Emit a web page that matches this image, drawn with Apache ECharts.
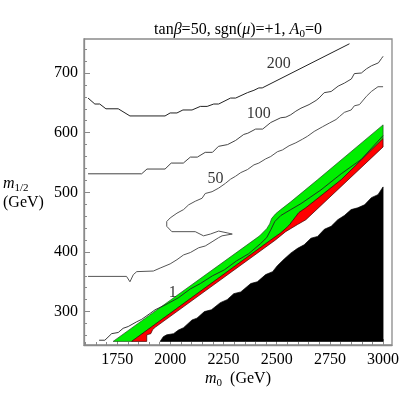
<!DOCTYPE html>
<html><head><meta charset="utf-8">
<script src="https://cdn.jsdelivr.net/npm/echarts@6/dist/echarts.min.js"></script>
<style>html,body{margin:0;padding:0;background:#fff}#c{width:403px;height:403px}</style>
</head><body><div id="c"></div>
<script>
// ---- data (m0 [GeV], m1/2 [GeV]) ----
const m0Ticks = [1750, 2000, 2250, 2500, 2750, 3000];
const m12Ticks = [300, 400, 500, 600, 700];
const m0Minor = [1600,1650,1700,1800,1850,1900,1950,2050,2100,2150,2200,2300,2350,2400,2450,2550,2600,2650,2700,2800,2850,2900,2950,3050];
const m12Minor = [260,280,320,340,360,380,420,440,460,480,520,540,560,580,620,640,660,680,720,740];

const contour200 = [[1613,658],[1645,648],[1668,648],[1697,640],[1755,640],[1810,628],[1975,628],[1999,633],[2031,633],[2059,638],[2102,638],[2141,644],[2173,644],[2204,648],[2227,648],[2283,658],[2307,658],[2362,667],[2393,671],[2416,675],[2432,675],[2842,749]];
const contour100 = [[1613,531],[1865,531],[1890,539],[1975,539],[2004,549],[2061,549],[2094,559],[2127,559],[2164,567],[2198,567],[2226,577],[2269,580],[2307,587],[2345,597],[2364,599],[2401,606],[2434,606],[2472,617],[2519,625],[2543,626],[2566,630],[2590,636],[2614,641],[2652,647],[2685,654],[2699,658],[2723,667],[2756,669],[2789,678],[2818,683],[2851,690],[2865,699],[2898,700],[2922,707],[2945,712],[2978,717],[2992,724],[3000,728]];
const contour50 = [[1613,359],[1794,359],[1810,350],[1826,362],[1842,367],[1920,368],[1952,373],[1999,380],[2031,387],[2062,395],[2094,399],[2133,407],[2164,410],[2196,417],[2227,424],[2243,427],[2291,430],[2267,432],[2227,435],[2188,430],[2156,427],[2117,434],[2007,434],[1983,443],[1983,451],[1999,457],[2031,465],[2062,471],[2086,479],[2117,485],[2149,490],[2164,498],[2196,501],[2227,507],[2259,515],[2283,522],[2307,527],[2331,533],[2362,538],[2393,546],[2416,549],[2448,556],[2472,560],[2503,568],[2527,571],[2558,578],[2590,583],[2621,589],[2645,594],[2676,602],[2716,610],[2747,616],[2779,622],[2795,627],[2818,634],[2850,638],[2865,645],[2889,647],[2922,661],[2945,669],[2976,677],[3000,677]];
const contour1 = [[1665,252],[1692,252],[1724,263],[1755,265],[1778,272],[1802,275],[1842,283],[1865,287],[1905,297],[1928,303],[1975,311],[1991,314],[2037,323],[2094,338],[2141,347],[2198,360],[2254,370],[2311,385],[2368,397],[2424,414],[2453,424],[2472,437],[2491,451],[2519,461],[2566,471],[2614,481],[2708,504],[2803,531],[2897,555],[3000,595]];

const greenUpper = [[1731,250],[2420,427],[2453,439],[2467,447],[2476,456],[2495,464],[2519,471],[2566,484],[2692,521],[3000,613]];
const greenLower = [[1818,250],[2472,420],[2519,432],[2557,444],[2585,457],[2604,466],[2637,474],[2803,521],[3000,590]];
const redLower = [[1889,250],[1889,261],[1908,263],[1917,270],[1930,274],[2494,420],[2542,434],[2598,446],[2637,454],[3000,576]];
const blackEdge = [[1952,250],[1967,258],[1983,261],[2015,263],[2038,269],[2062,273],[2102,286],[2125,289],[2160,300],[2193,303],[2235,315],[2267,320],[2298,330],[2331,333],[2378,347],[2409,350],[2448,362],[2481,367],[2503,377],[2535,388],[2566,398],[2598,406],[2629,412],[2661,423],[2692,426],[2724,438],[2756,443],[2787,454],[2818,461],[2850,471],[2881,474],[2913,479],[2945,491],[2976,496],[3000,509],[3000,250]];

const contourLabels = [[2509,716,'200'],[2415,632,'100'],[2212,523,'50'],[2011,332,'1']];

// ---- chart ----
const FONT = 'Liberation Serif';
const chart = echarts.init(document.getElementById('c'), null, {renderer:'canvas'});

function polygonSeries(pts, fill, stroke) {
  return {
    type: 'custom', data: pts, clip: true, silent: true,
    encode: {x: 0, y: 1},
    renderItem: function (params, api) {
      if (params.dataIndex !== 0) return null;
      return {type: 'polygon', shape: {points: pts.map(p => api.coord(p))},
              style: {fill: fill, stroke: stroke, lineWidth: 0.7}};
    }
  };
}
function lineSeries(pts, color, w) {
  return {type: 'line', data: pts, showSymbol: false, symbol: 'none', silent: true,
          lineStyle: {color: color, width: w}, z: 5, animation: false};
}
const greenPoly = greenUpper.concat(greenLower.slice().reverse());
const redPoly = greenLower.concat(redLower.slice().reverse());

const axisColor = '#8a8a8a';
const plain = v => String(v);
chart.setOption({
  animation: false,
  grid: {left: 84, top: 39, width: 308, height: 306, show: true, borderColor: axisColor, borderWidth: 1.3, backgroundColor: '#fff'},
  xAxis: [
    {type: 'value', min: 1594, max: 3042, position: 'bottom',
     axisLine: {show: true, lineStyle: {color: axisColor, width: 1.3}},
     axisTick: {show: true, inside: true, length: 6, customValues: m0Ticks, lineStyle: {color: axisColor}},
     axisLabel: {customValues: m0Ticks, formatter: plain, fontFamily: FONT, fontSize: 16, color: '#000', margin: 7},
     splitLine: {show: false}},
    {type: 'value', min: 1594, max: 3042, position: 'bottom', offset: 0,
     axisLine: {show: false},
     axisTick: {show: true, inside: true, length: 3, customValues: m0Minor, lineStyle: {color: axisColor}},
     axisLabel: {show: false}, splitLine: {show: false}}
  ],
  yAxis: [
    {type: 'value', min: 244, max: 757, position: 'left',
     axisLine: {show: true, lineStyle: {color: axisColor, width: 1.3}},
     axisTick: {show: true, inside: true, length: 6, customValues: m12Ticks, lineStyle: {color: axisColor}},
     axisLabel: {customValues: m12Ticks, formatter: plain, fontFamily: FONT, fontSize: 16, color: '#000', margin: 6},
     splitLine: {show: false}},
    {type: 'value', min: 244, max: 757, position: 'left', offset: 0,
     axisLine: {show: false},
     axisTick: {show: true, inside: true, length: 3, customValues: m12Minor, lineStyle: {color: axisColor}},
     axisLabel: {show: false}, splitLine: {show: false}}
  ],
  series: [
    polygonSeries(blackEdge, '#000', '#000'),
    polygonSeries(greenPoly, '#00ee00', '#1b4d1b'),
    polygonSeries(redPoly, '#ff0000', '#3a0000'),
    lineSeries(contour1, '#222', 0.9),
    lineSeries(contour50, '#555', 1),
    lineSeries(contour100, '#444', 1),
    lineSeries(contour200, '#222', 1),
    {type: 'scatter', data: contourLabels, symbolSize: 0, silent: true, z: 6,
     label: {show: true, position: 'inside', formatter: p => p.value[2], fontFamily: FONT, fontSize: 16, color: '#000'}}
  ],
  graphic: [
    {type: 'text', x: 238, y: 30, style: {
      text: '{n|tan}{g|β}{n|=50, sgn(}{g|μ}{n|)=+1, }{g|A}{s|0}{n|=0}',
      align: 'center', verticalAlign: 'middle',
      rich: {n: {fontFamily: FONT, fontSize: 16, color: '#000'},
             g: {fontFamily: FONT, fontSize: 16, fontStyle: 'italic', color: '#000'},
             s: {fontFamily: FONT, fontSize: 11, color: '#000', padding: [8, 0, 0, 0]}}}},
    {type: 'text', x: 238, y: 379, style: {
      text: '{g|m}{s|0}{n|  (GeV)}', align: 'center', verticalAlign: 'middle',
      rich: {n: {fontFamily: FONT, fontSize: 16, color: '#000'},
             g: {fontFamily: FONT, fontSize: 16, fontStyle: 'italic', color: '#000'},
             s: {fontFamily: FONT, fontSize: 11, color: '#000', padding: [8, 0, 0, 0]}}}},
    {type: 'text', x: 3, y: 184, style: {
      text: '{g|m}{s|1/2}', align: 'left', verticalAlign: 'middle',
      rich: {g: {fontFamily: FONT, fontSize: 16, fontStyle: 'italic', color: '#000'},
             s: {fontFamily: FONT, fontSize: 11, color: '#000', padding: [8, 0, 0, 0]}}}},
    {type: 'text', x: 3, y: 203, style: {
      text: '(GeV)', align: 'left', verticalAlign: 'middle',
      fontFamily: FONT, fontSize: 16, fill: '#000'}}
  ]
});
</script>
</body></html>
